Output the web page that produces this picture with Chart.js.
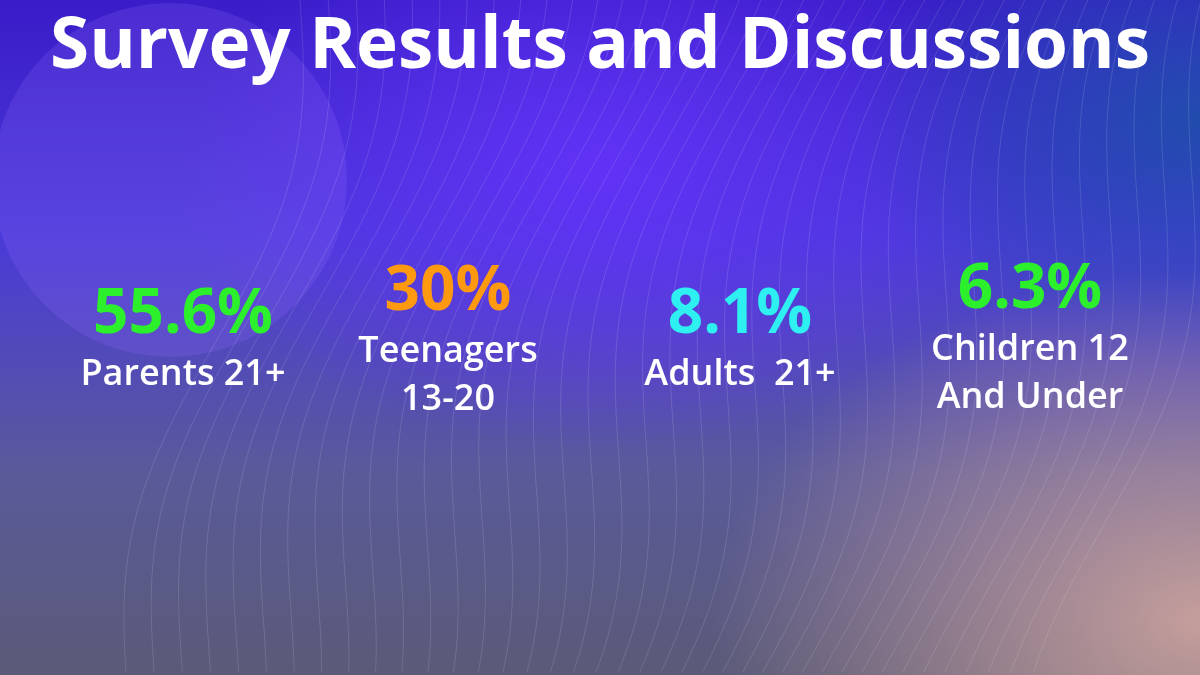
<!DOCTYPE html>
<html><head><meta charset="utf-8">
<script src="https://cdn.jsdelivr.net/npm/chart.js@4"></script>
<style>
html,body{margin:0;padding:0;width:1200px;height:675px;overflow:hidden;}
body{background:
 radial-gradient(ellipse 700px 500px at 1200px 620px, rgba(215,170,160,0.85), rgba(215,170,160,0) 70%),
 radial-gradient(ellipse 500px 350px at 1200px 120px, rgba(30,80,170,0.9), rgba(30,80,170,0) 70%),
 radial-gradient(ellipse 600px 400px at 600px 170px, rgba(100,50,250,0.9), rgba(100,50,250,0) 70%),
 linear-gradient(180deg,#3a1cc8 0%,#4a3ad8 35%,#5a5a9a 70%,#5a5a78 100%);}
canvas{position:absolute;left:0;top:0;}
</style></head><body>
<canvas id="c" width="1200" height="675"></canvas>
<script>
const title = "Survey Results and Discussions";
const categories = [["Parents 21+"], ["Teenagers", "13-20"], ["Adults  21+"], ["Children 12", "And Under"]];
const values = [55.6, 30, 8.1, 6.3];
const valueLabels = ["55.6%", "30%", "8.1%", "6.3%"];
const colors = ["#2cf02c", "#ff9a10", "#2ef0f0", "#2cf02c"];

// layout (pixel positions, not data)
const layoutX = [183, 448, 740, 1030];
const layoutY = [315, 292, 315, 290];

const textPlugin = {
  id: 'texts',
  beforeDraw(chart) {
    const ctx = chart.ctx;
    ctx.save();
    ctx.fillStyle = 'rgba(150,110,255,0.2)';
    ctx.beginPath(); ctx.arc(170, 180, 177, 0, Math.PI * 2); ctx.fill();
    ctx.strokeStyle = 'rgba(255,255,255,0.13)';
    ctx.lineWidth = 1;
    for (let i = 0; i < 40; i++) {
      const x0 = 300 + i * 24;
      ctx.beginPath();
      for (let y = 0; y <= 675; y += 8) {
        const x = x0 + 35 * Math.sin(y / 110 + i * 0.12) - y * 0.25;
        if (y === 0) ctx.moveTo(x, y); else ctx.lineTo(x, y);
      }
      ctx.stroke();
    }
    ctx.restore();
  },
  afterDraw(chart) {
    const ctx = chart.ctx;
    const xs = chart.scales.x, ys = chart.scales.y;
    ctx.save();
    ctx.textAlign = 'center';
    ctx.textBaseline = 'middle';
    ctx.fillStyle = '#ffffff';
    ctx.font = 'bold 71px "Open Sans"';
    ctx.fillText(title, 600, 48);
    chart.data.datasets[0].data.forEach((p, i) => {
      const x = xs.getPixelForValue(p.x), y = ys.getPixelForValue(p.y);
      ctx.fillStyle = colors[i];
      ctx.font = 'bold 62px "Open Sans"';
      ctx.fillText(valueLabels[i], x, y);
      ctx.fillStyle = '#ffffff';
      ctx.font = '600 36px "Open Sans"';
      categories[i].forEach((line, j) => ctx.fillText(line, x, y + 60 + j * 48));
    });
    ctx.restore();
  }
};

new Chart(document.getElementById('c'), {
  type: 'scatter',
  data: { datasets: [{ data: values.map((v, i) => ({ x: layoutX[i], y: layoutY[i], v })), pointRadius: 0 }] },
  options: {
    responsive: false, animation: false,
    layout: { padding: 0 },
    plugins: { legend: { display: false }, tooltip: { enabled: false } },
    scales: {
      x: { type: 'linear', min: 0, max: 1200, display: false },
      y: { type: 'linear', min: 0, max: 675, reverse: true, display: false }
    }
  },
  plugins: [textPlugin]
});
</script></body></html>
